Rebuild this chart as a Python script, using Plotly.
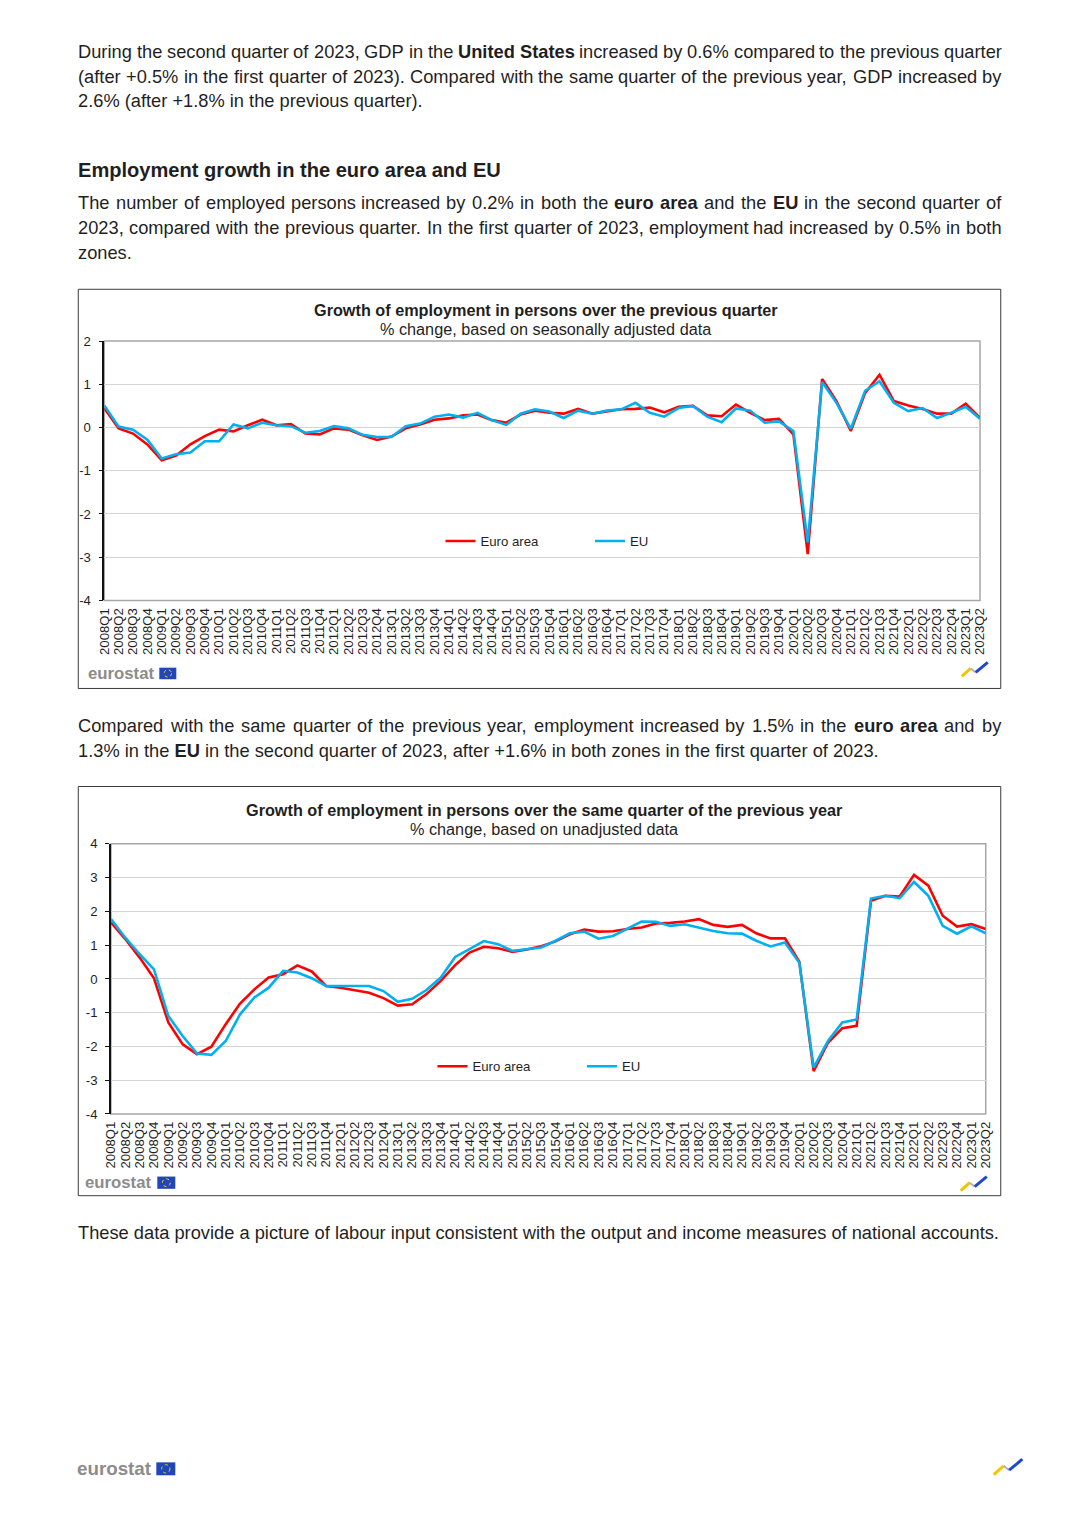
import plotly.graph_objects as go

W, H = 1077, 1522
MARGIN = 8                   # default body margin of the page
FW, FH = W - 2 * MARGIN, H - 2 * MARGIN     # figure size (page fits window exactly)
# the photographed page appears with an 8px border and is rescaled to W x H;
# positions below are given in final-picture pixels and mapped back to the figure
PAD = 8
S_X = W / (W + 2 * PAD)
S_Y = H / (H + 2 * PAD)
FS = 1 / S_X                 # font scale so text keeps its picture size
FONT = "Liberation Sans, Arial, sans-serif"
TXT = "#1f1f1f"

quarters = [f"{y}Q{q}" for y in range(2008, 2024) for q in range(1, 5)][:62]

qoq_ea = [0.45, -0.02, -0.14, -0.39, -0.76, -0.65, -0.39, -0.20, -0.05, -0.09,
          0.05, 0.18, 0.05, 0.08, -0.14, -0.16, -0.02, -0.05, -0.18, -0.29,
          -0.21, -0.02, 0.07, 0.18, 0.21, 0.28, 0.30, 0.17, 0.11, 0.30,
          0.39, 0.34, 0.32, 0.43, 0.32, 0.37, 0.42, 0.43, 0.46, 0.35,
          0.48, 0.50, 0.28, 0.26, 0.53, 0.34, 0.17, 0.20, -0.16, -2.93,
          1.12, 0.61, -0.08, 0.80, 1.22, 0.61, 0.51, 0.43, 0.32, 0.32,
          0.55, 0.22]
qoq_eu = [0.51, 0.02, -0.05, -0.28, -0.72, -0.62, -0.58, -0.32, -0.32, 0.07,
          -0.02, 0.11, 0.05, 0.03, -0.12, -0.08, 0.03, -0.02, -0.17, -0.22,
          -0.22, 0.03, 0.09, 0.25, 0.30, 0.23, 0.34, 0.17, 0.06, 0.32,
          0.42, 0.37, 0.22, 0.39, 0.32, 0.39, 0.42, 0.57, 0.34, 0.25,
          0.45, 0.50, 0.25, 0.12, 0.44, 0.39, 0.11, 0.14, -0.08, -2.66,
          1.05, 0.57, -0.03, 0.85, 1.07, 0.57, 0.38, 0.45, 0.22, 0.34,
          0.48, 0.20]
yoy_ea = [1.67, 1.18, 0.63, 0.02, -1.29, -1.94, -2.23, -2.01, -1.34, -0.73,
          -0.31, 0.04, 0.14, 0.40, 0.22, -0.21, -0.26, -0.34, -0.41, -0.57,
          -0.79, -0.75, -0.45, -0.06, 0.41, 0.78, 0.95, 0.91, 0.80, 0.87,
          0.97, 1.11, 1.32, 1.46, 1.40, 1.41, 1.48, 1.52, 1.64, 1.66,
          1.70, 1.77, 1.60, 1.54, 1.60, 1.35, 1.20, 1.20, 0.51, -2.73,
          -1.89, -1.46, -1.39, 2.31, 2.46, 2.44, 3.08, 2.76, 1.87, 1.55,
          1.62, 1.48]
yoy_eu = [1.77, 1.22, 0.73, 0.28, -1.10, -1.69, -2.21, -2.25, -1.84, -1.05,
          -0.55, -0.26, 0.24, 0.19, 0.02, -0.21, -0.21, -0.21, -0.21, -0.36,
          -0.68, -0.59, -0.33, 0.04, 0.65, 0.88, 1.12, 1.03, 0.83, 0.88,
          0.93, 1.13, 1.35, 1.40, 1.19, 1.27, 1.49, 1.70, 1.69, 1.57,
          1.62, 1.52, 1.42, 1.35, 1.34, 1.13, 0.96, 1.08, 0.48, -2.63,
          -1.84, -1.29, -1.20, 2.38, 2.46, 2.39, 2.87, 2.46, 1.57, 1.34,
          1.56, 1.35]

series_names = ["Euro area", "EU"]
series_colors = ["#ff0000", "#00b0f0"]

y1_ticks = [-4, -3, -2, -1, 0, 1, 2]
y1_labels = ["-4", "-3", "-2", "-1", "0", "1", "2"]
y2_ticks = [-4, -3, -2, -1, 0, 1, 2, 3, 4]
y2_labels = ["-4", "-3", "-2", "-1", "0", "1", "2", "3", "4"]

title1 = "Growth of employment in persons over the previous quarter"
sub1 = "% change, based on seasonally adjusted data"
title2 = "Growth of employment in persons over the same quarter of the previous year"
sub2 = "% change, based on unadjusted data"

heading = "Employment growth in the euro area and EU"
# body text lines: (segments [(text, bold)], line y, justified?)
text_lines = [
    ([("During the second quarter of 2023, GDP in the", 0), ("United States", 1),
      ("increased by 0.6% compared to the previous quarter", 0)], 52, True),
    ([("(after +0.5% in the first quarter of 2023). Compared with the same quarter "
       "of the previous year, GDP increased by", 0)], 77, True),
    ([("2.6% (after +1.8% in the previous quarter).", 0)], 101, False),
    ([("The number of employed persons increased by 0.2% in both the", 0), ("euro area", 1),
      ("and the", 0), ("EU", 1), ("in the second quarter of", 0)], 203, True),
    ([("2023, compared with the previous quarter. In the first quarter of 2023, "
       "employment had increased by 0.5% in both", 0)], 228, True),
    ([("zones.", 0)], 253, False),
    ([("Compared with the same quarter of the previous year, employment increased by "
       "1.5% in the", 0), ("euro area", 1), ("and by", 0)], 726, True),
    ([("1.3% in the", 0), ("EU", 1), ("in the second quarter of 2023, after +1.6% in both "
                                    "zones in the first quarter of 2023.", 0)], 751, False),
    ([("These data provide a picture of labour input consistent with the output and "
       "income measures of national accounts.", 0)], 1233, False),
]

# Arial / Liberation Sans advance widths (1/1000 em), used to justify lines
_REG = dict(zip(" %()+,-./0123456789:", [278, 889, 333, 333, 584, 278, 333, 278, 278] + [556] * 10 + [278]))
_REG.update(dict(zip("ABCDEFGHIJKLMNOPQRSTUVWXYZ",
                     [667, 667, 722, 722, 667, 611, 778, 722, 278, 500, 667, 556, 833,
                      722, 778, 667, 778, 722, 667, 611, 722, 667, 944, 667, 667, 611])))
_REG.update(dict(zip("abcdefghijklmnopqrstuvwxyz",
                     [556, 556, 500, 556, 556, 278, 556, 556, 222, 222, 500, 222, 833,
                      556, 556, 556, 556, 333, 500, 278, 556, 500, 722, 500, 500, 500])))
_BOLD = dict(zip(" %()+,-./0123456789:", [278, 889, 333, 333, 584, 278, 333, 278, 278] + [556] * 10 + [333]))
_BOLD.update(dict(zip("ABCDEFGHIJKLMNOPQRSTUVWXYZ",
                      [722, 722, 722, 722, 667, 611, 778, 722, 278, 556, 722, 611, 833,
                       722, 778, 667, 778, 722, 667, 611, 722, 667, 944, 667, 667, 611])))
_BOLD.update(dict(zip("abcdefghijklmnopqrstuvwxyz",
                      [556, 611, 556, 611, 556, 333, 611, 611, 278, 278, 556, 278, 889,
                       611, 611, 611, 611, 389, 556, 333, 611, 556, 778, 556, 556, 500])))


def text_width(s, bold, size):
    tab = _BOLD if bold else _REG
    return sum(tab.get(c, 556) for c in s) * size / 1000.0


def px(x):
    return (x / S_X - PAD - MARGIN) / FW


def py(y):
    return 1 - (y / S_Y - PAD - MARGIN) / FH


def fs(size):
    return round(size * FS, 2)


# plot areas (picture pixels)
P1 = dict(x0=104, x1=979.3, y0=341.7, y1=601)
P2 = dict(x0=110.7, x1=985, y0=844.3, y1=1114.3)
F1 = dict(x0=78, x1=1000, y0=290, y1=689)
F2 = dict(x0=78, x1=1000, y0=787, y1=1196)
TEXT_X0, TEXT_X1 = 78, 1000
BODY_SIZE = 18

fig = go.Figure()
for vals, nm, col in zip([qoq_ea, qoq_eu], series_names, series_colors):
    fig.add_trace(go.Scatter(x=quarters, y=vals, name=nm, mode="lines",
                             line=dict(color=col, width=2.6),
                             xaxis="x", yaxis="y", legend="legend"))
for vals, nm, col in zip([yoy_ea, yoy_eu], series_names, series_colors):
    fig.add_trace(go.Scatter(x=quarters, y=vals, name=nm, mode="lines",
                             line=dict(color=col, width=2.6),
                             xaxis="x2", yaxis="y2", legend="legend2"))

tickfont = dict(family=FONT, size=fs(13), color=TXT)


def xaxis_main(P, anchor):
    return dict(domain=[px(P["x0"]), px(P["x1"])], type="category",
                categoryorder="array", categoryarray=quarters, anchor=anchor,
                range=[0, len(quarters) - 1], tickmode="linear", tick0=0, dtick=1,
                tickangle=-90, tickfont=tickfont,
                showgrid=False, showline=False, zeroline=False, ticks="",
                ticklabelstandoff=4, fixedrange=True)


def yaxis_main(P, rng, tv, tt, anchor):
    return dict(domain=[py(P["y1"]), py(P["y0"])], range=rng, anchor=anchor,
                tickmode="array", tickvals=tv, ticktext=tt,
                showgrid=True, gridcolor="#d4d4d4", gridwidth=1,
                zeroline=False, showline=True, linecolor="#111111",
                linewidth=1.5, ticks="outside", ticklen=4, tickcolor="#111111",
                tickfont=tickfont, ticklabelstandoff=5, fixedrange=True)


def zero_axis(over, P, rng):
    frac = (0 - rng[0]) / (rng[1] - rng[0])
    ypos = py(P["y1"]) + frac * (py(P["y0"]) - py(P["y1"]))
    return dict(overlaying=over, anchor="free", position=ypos, type="linear",
                range=[0, len(quarters) - 1], tickmode="array",
                tickvals=list(range(len(quarters))), showticklabels=False,
                ticks="outside", ticklen=4, tickcolor="#111111", tickwidth=1.5,
                showline=True, linecolor="#111111", linewidth=2,
                showgrid=False, zeroline=False, fixedrange=True)


rng1 = [-4, 2]
rng2 = [-4, 4]

shapes = []
for F in (F1, F2):
    shapes.append(dict(type="rect", xref="paper", yref="paper",
                       x0=px(F["x0"]), x1=px(F["x1"]), y0=py(F["y1"]), y1=py(F["y0"]),
                       line=dict(color="#3a3a3a", width=1), layer="below"))
for P in (P1, P2):
    shapes.append(dict(type="rect", xref="paper", yref="paper",
                       x0=px(P["x0"]), x1=px(P["x1"]), y0=py(P["y1"]), y1=py(P["y0"]),
                       line=dict(color="#a6a6a6", width=1.5), layer="between"))

annotations = []


def txt(x, y, s, anchor="left", size=BODY_SIZE, bold=False, color=TXT):
    annotations.append(dict(xref="paper", yref="paper", x=px(x), y=py(y),
                            xanchor=anchor, yanchor="middle", showarrow=False,
                            borderpad=0, borderwidth=0,
                            text=f"<b>{s}</b>" if bold else s,
                            font=dict(family=FONT, size=fs(size), color=color)))


def text_line(segments, y, justify):
    if not justify:
        html = " ".join(f"<b>{t}</b>" if b else t for t, b in segments)
        txt(TEXT_X0, y, html)
        return
    words = [(w, b) for t, b in segments for w in t.split()]
    widths = [text_width(w, b, BODY_SIZE) for w, b in words]
    gap = (TEXT_X1 - TEXT_X0 - sum(widths)) / (len(words) - 1)
    x = TEXT_X0
    for (w, b), wd in zip(words, widths):
        txt(x, y, w, bold=bool(b))
        x += wd + gap


for segs, y, just in text_lines:
    text_line(segs, y, just)
txt(78, 171, heading, size=19.8, bold=True)

txt(545.5, 311, title1, anchor="center", size=16, bold=True)
txt(545.5, 330, sub1, anchor="center", size=16)
txt(543.5, 810, title2, anchor="center", size=16, bold=True)
txt(543.5, 829, sub2, anchor="center", size=16)


def eurostat_logo(x, y, size, flag_x, flag_w):
    txt(x, y, "eurostat", size=size, bold=True, color="#8c8c8c")
    fh = flag_w * 0.68
    shapes.append(dict(type="rect", xref="paper", yref="paper",
                       x0=px(flag_x), x1=px(flag_x + flag_w), y0=py(y + fh / 2), y1=py(y - fh / 2),
                       fillcolor="#1f47b8", line=dict(width=0)))
    cx = flag_x + flag_w / 2
    r = fh * 0.32
    shapes.append(dict(type="circle", xref="paper", yref="paper",
                       x0=px(cx - r), x1=px(cx + r), y0=py(y + r), y1=py(y - r),
                       line=dict(color="#ffd200", width=1, dash="dot")))


def swoosh(x, y, s=1.0):
    shapes.append(dict(type="line", xref="paper", yref="paper",
                       x0=px(x), y0=py(y + 8 * s), x1=px(x + 9 * s), y1=py(y),
                       line=dict(color="#f5c400", width=3)))
    shapes.append(dict(type="line", xref="paper", yref="paper",
                       x0=px(x + 9 * s), y0=py(y), x1=px(x + 14 * s), y1=py(y + 4 * s),
                       line=dict(color="#b0b0b0", width=2)))
    shapes.append(dict(type="line", xref="paper", yref="paper",
                       x0=px(x + 14 * s), y0=py(y + 4 * s), x1=px(x + 26 * s), y1=py(y - 6 * s),
                       line=dict(color="#1f47d0", width=3)))


eurostat_logo(88, 674, 16.5, 159, 17)
eurostat_logo(85, 1183, 16.5, 157, 18)
eurostat_logo(77, 1469, 18.5, 156, 19)
swoosh(961, 669)
swoosh(960, 1183)
swoosh(993, 1466, 1.1)

legfont = dict(family=FONT, size=fs(13), color=TXT)

fig.update_layout(
    width=FW, height=FH, margin=dict(l=0, r=0, t=0, b=0),
    paper_bgcolor="white", plot_bgcolor="white",
    font=dict(family=FONT, color=TXT),
    showlegend=True,
    xaxis=xaxis_main(P1, "y"), yaxis=yaxis_main(P1, rng1, y1_ticks, y1_labels, "x"),
    xaxis2=xaxis_main(P2, "y2"), yaxis2=yaxis_main(P2, rng2, y2_ticks, y2_labels, "x2"),
    xaxis3=zero_axis("x", P1, rng1),
    xaxis4=zero_axis("x2", P2, rng2),
    legend=dict(orientation="h", x=px(440), y=py(542), xanchor="left", yanchor="middle",
                font=legfont, bgcolor="rgba(0,0,0,0)", entrywidth=104.5,
                entrywidthmode="pixels", itemwidth=30),
    legend2=dict(orientation="h", x=px(432), y=py(1067), xanchor="left", yanchor="middle",
                 font=legfont, bgcolor="rgba(0,0,0,0)", entrywidth=104.5,
                 entrywidthmode="pixels", itemwidth=30),
    shapes=shapes, annotations=annotations,
)

fig.write_html("out.html")
